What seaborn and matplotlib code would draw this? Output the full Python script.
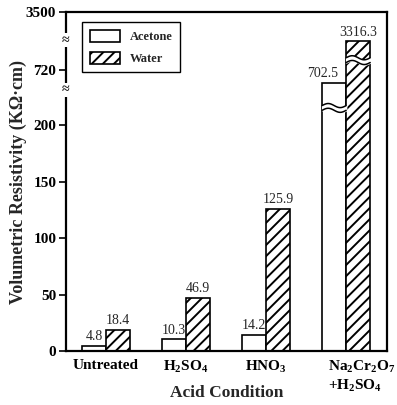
import numpy as np
import pandas as pd
import matplotlib
matplotlib.use("Agg")
import matplotlib.pyplot as plt
import matplotlib.transforms as mtransforms
from matplotlib.patches import Patch
import seaborn as sns

# Data
conditions = ["Untreated", "H$_2$SO$_4$", "HNO$_3$", "Na$_2$Cr$_2$O$_7$\n+H$_2$SO$_4$"]
acetone = [4.8, 10.3, 14.2, 702.5]
water = [18.4, 46.9, 125.9, 3316.3]
solvents = ["Acetone", "Water"]
yticks = [0, 50, 100, 150, 200, 720, 3500]

df = pd.DataFrame({
    "condition": conditions * 2,
    "solvent": [solvents[0]] * len(conditions) + [solvents[1]] * len(conditions),
    "value": acetone + water,
})

sns.set_theme(style="white")
plt.rcParams["font.family"] = ["Liberation Serif", "DejaVu Serif"]
plt.rcParams["mathtext.fontset"] = "custom"
plt.rcParams["mathtext.rm"] = "Liberation Serif:bold"
plt.rcParams["mathtext.it"] = "Liberation Serif:bold"
plt.rcParams["mathtext.bf"] = "Liberation Serif:bold"
plt.rcParams["mathtext.default"] = "rm"
plt.rcParams["hatch.linewidth"] = 1.4
plt.rcParams["hatch.color"] = "black"

fig = plt.figure(figsize=(3.97, 4.05), dpi=100)
ax = fig.add_axes([66 / 397, 1 - 351 / 405, 321 / 397, 339 / 405])

sns.barplot(data=df, x="condition", y="value", hue="solvent", order=conditions,
            hue_order=solvents, palette=["white", "white"], edgecolor="black",
            linewidth=1.2, width=0.6, gap=0, ax=ax, legend=False, errorbar=None)

for bar in ax.containers[1]:
    bar.set_hatch("///")

# Broken value axis: linear up to 200, compressed segments around 720 and 3500
knot_v = np.array([-1e4, 0, 200, 695, 720, 3300, 3500, 1e5])
knot_p = np.array([-1.125e4, 0, 225, 262, 280, 306, 338, 338 + (1e5 - 3500) * 0.16])


def fwd(v):
    return np.interp(v, knot_v, knot_p)


def inv(p):
    return np.interp(p, knot_p, knot_v)


ax.set_yscale("function", functions=(fwd, inv))
ax.set_ylim(0, 3500)
ax.set_xlim(-0.5, 3.51)
ax.set_yticks(yticks)
ax.set_yticklabels([str(t) for t in yticks])
ax.yaxis.set_minor_locator(matplotlib.ticker.NullLocator())

# Value labels
ac_labels = ax.bar_label(ax.containers[0], labels=[f"{v:.1f}" for v in acetone],
                         padding=2, fontsize=10)
ax.bar_label(ax.containers[1], labels=[f"{v:.1f}" for v in water], padding=2,
             fontsize=10)
ac_labels[3].set_horizontalalignment("right")
ac_labels[3].set_x(ax.containers[0][3].get_x() + ax.containers[0][3].get_width())

# Wavy break marks inside the tall bars
trans = mtransforms.blended_transform_factory(ax.transData, ax.transAxes)
for bar, yfrac in [(ax.containers[0][3], 0.717), (ax.containers[1][3], 0.858)]:
    x0, w = bar.get_x(), bar.get_width()
    xs = np.linspace(x0, x0 + w, 60)
    wave = 0.006 * np.sin((xs - x0) / w * 2 * np.pi)
    lo = yfrac - 0.007 + wave
    hi = yfrac + 0.007 + wave
    ax.fill_between(xs, lo, hi, transform=trans, color="white", zorder=5)
    ax.plot(xs, lo, transform=trans, color="black", lw=1.1, zorder=6)
    ax.plot(xs, hi, transform=trans, color="black", lw=1.1, zorder=6)

# Break marks on the value axis
for yfrac in (0.917, 0.77):
    ax.text(0, yfrac, "\u2248", transform=ax.transAxes, ha="center", va="center",
            fontsize=10, fontweight="bold", zorder=10, clip_on=False,
            bbox=dict(facecolor="white", edgecolor="none", pad=0.1))

# Axes styling
for side in ["left", "right", "top", "bottom"]:
    ax.spines[side].set_visible(True)
    ax.spines[side].set_color("black")
    ax.spines[side].set_linewidth(1.6)
ax.tick_params(axis="y", direction="out", length=5, width=1.2, left=True,
               labelsize=11, pad=2, colors="black")
ax.tick_params(axis="x", length=0, labelsize=11, pad=6, colors="black")
for lab in ax.get_yticklabels() + ax.get_xticklabels():
    lab.set_fontweight("bold")

last = ax.get_xticklabels()[3]
last.set_horizontalalignment("left")
last.set_transform(last.get_transform() +
                   mtransforms.ScaledTranslation(-18 / 100, 0, fig.dpi_scale_trans))
last.set_multialignment("left")

ax.set_xlabel("Acid Condition", fontsize=12.5, fontweight="bold")
ax.xaxis.set_label_coords(0.5, -0.125)
ax.xaxis.label.set_verticalalignment("center")
ax.set_ylabel("Volumetric Resistivity (K\u03a9\u00b7cm)", fontsize=13,
              fontweight="bold")
ax.yaxis.set_label_coords(-0.148, 0.5)
ax.yaxis.label.set_verticalalignment("center")

handles = [Patch(facecolor="white", edgecolor="black", linewidth=1.2, label="Acetone"),
           Patch(facecolor="white", edgecolor="black", linewidth=1.2, hatch="///",
                 label="Water")]
leg = ax.legend(handles=handles, loc="upper left", bbox_to_anchor=(0.05, 0.97),
                prop={"family": "Liberation Serif", "weight": "bold", "size": 9},
                frameon=True, fancybox=False, edgecolor="black", framealpha=1,
                handlelength=2.4, handleheight=1.1, borderpad=0.6, labelspacing=0.7,
                handletextpad=0.8, borderaxespad=0)
leg.get_frame().set_linewidth(1.0)

fig.savefig("out.png", dpi=100)
